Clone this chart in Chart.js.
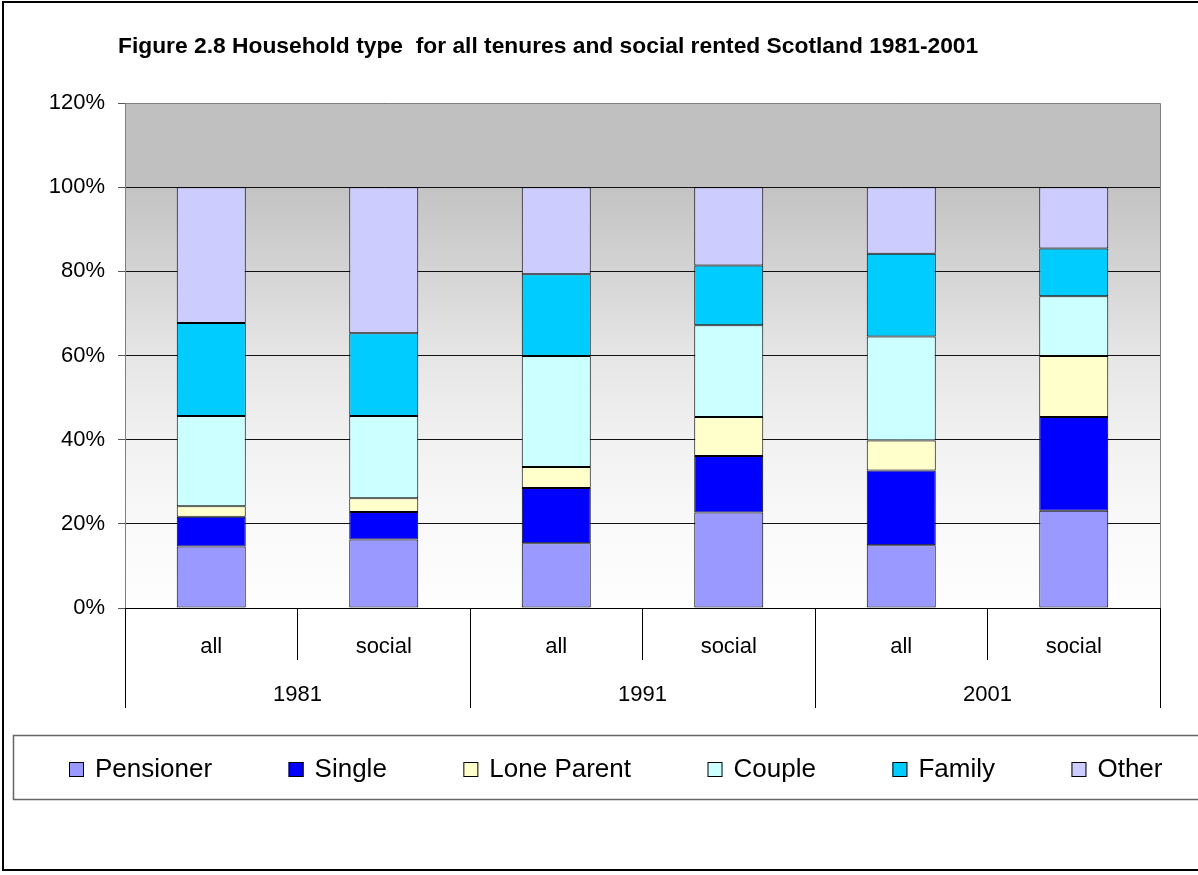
<!DOCTYPE html>
<html>
<head>
<meta charset="utf-8">
<script src="https://cdn.jsdelivr.net/npm/chart.js@4/dist/chart.umd.min.js"></script>
<style>
  html, body { margin: 0; padding: 0; background: #fff; }
  #wrap { position: relative; width: 1198px; height: 875px; }
  canvas { display: block; }
</style>
</head>
<body>
<div id="wrap"><canvas id="c" width="1198" height="875"></canvas></div>
<script>
// ---- Data ----
const titleText = 'Figure 2.8 Household type  for all tenures and social rented Scotland 1981-2001';
const categories = ['all', 'social', 'all', 'social', 'all', 'social'];
const years = ['1981', '1991', '2001'];
const yTicks = [0, 20, 40, 60, 80, 100, 120];
const seriesNames = ['Pensioner', 'Single', 'Lone Parent', 'Couple', 'Family', 'Other'];
const pensioner  = [14.6, 16.3, 15.4, 22.7, 14.9, 23.1];
const single     = [7.1, 6.5, 13.1, 13.4, 17.8, 22.3];
const loneParent = [2.5, 3.3, 5.0, 9.3, 7.1, 14.5];
const couple     = [21.4, 19.5, 26.4, 21.8, 24.7, 14.2];
const family     = [22.1, 19.7, 19.4, 14.2, 19.7, 11.3];
const other      = [32.3, 34.7, 20.7, 18.6, 15.8, 14.6];

const seriesValues = [pensioner, single, loneParent, couple, family, other];
const seriesColors = ['#9999ff', '#0000ff', '#ffffcc', '#ccffff', '#00ccff', '#ccccff'];

const FONT = "'Liberation Sans', Arial, sans-serif";
Chart.defaults.font.family = FONT;
Chart.defaults.color = '#000';

const bgPlugin = {
  id: 'bg',
  beforeDraw(chart) {
    const {ctx, chartArea: a, scales: {y}} = chart;
    ctx.save();
    // outer frame
    ctx.strokeStyle = '#000';
    ctx.lineWidth = 2;
    ctx.strokeRect(3, 2, 1300, 868);
    // plot background
    const y100 = y.getPixelForValue(100);
    ctx.fillStyle = '#c0c0c0';
    ctx.fillRect(a.left, a.top, a.right - a.left, y100 - a.top);
    const g = ctx.createLinearGradient(0, y100, 0, a.bottom);
    g.addColorStop(0, '#c3c3c3');
    g.addColorStop(0.2, '#d4d4d4');
    g.addColorStop(0.4, '#e6e6e6');
    g.addColorStop(0.6, '#f1f1f1');
    g.addColorStop(0.8, '#f9f9f9');
    g.addColorStop(1, '#fefefe');
    ctx.fillStyle = g;
    ctx.fillRect(a.left, y100, a.right - a.left, a.bottom - y100);
    ctx.restore();
  },
  beforeDatasetsDraw(chart) {
    const {ctx, chartArea: a} = chart;
    ctx.save();
    ctx.strokeStyle = '#808080';
    ctx.lineWidth = 1;
    ctx.beginPath();
    ctx.moveTo(a.left + 0.5, a.bottom);
    ctx.lineTo(a.left + 0.5, a.top + 0.5);
    ctx.lineTo(a.right + 0.5, a.top + 0.5);
    ctx.lineTo(a.right + 0.5, a.bottom);
    ctx.stroke();
    ctx.restore();
  },
  afterDraw(chart) {
    const {ctx} = chart;
    ctx.save();
    // title
    ctx.font = 'bold 22.8px ' + FONT;
    ctx.fillStyle = '#000';
    ctx.textBaseline = 'middle';
    ctx.textAlign = 'left';
    ctx.fillText(titleText, 118, 47);
    // legend frame
    ctx.strokeStyle = '#666';
    ctx.lineWidth = 1.5;
    ctx.strokeRect(13.5, 735.5, 1300, 64);
    // legend items
    ctx.font = '26px ' + FONT;
    let x = 69;
    const cy = 769;
    chart.data.datasets.forEach(ds => {
      ctx.fillStyle = ds.backgroundColor;
      ctx.fillRect(x, cy - 7, 15, 15);
      ctx.strokeStyle = '#000';
      ctx.lineWidth = 1;
      ctx.strokeRect(x + 0.5, cy - 6.5, 14, 14);
      ctx.fillStyle = '#000';
      ctx.fillText(ds.label, x + 26, cy + 1);
      x += 26 + ctx.measureText(ds.label).width + 76.5;
    });
    ctx.restore();
  }
};

new Chart(document.getElementById('c'), {
  type: 'bar',
  data: {
    labels: categories,
    datasets: seriesNames.map((name, i) => ({
      label: name,
      data: seriesValues[i],
      backgroundColor: seriesColors[i],
      borderColor: '#000',
      borderWidth: 1,
      borderSkipped: false,
      barPercentage: 0.4,
      categoryPercentage: 1.0
    }))
  },
  options: {
    responsive: false,
    animation: false,
    layout: { padding: { left: 0, right: 38, top: 103, bottom: 169 } },
    plugins: { legend: { display: false }, title: { display: false }, tooltip: { enabled: false } },
    scales: {
      y: {
        stacked: true,
        min: 0, max: 120,
        afterBuildTicks(s) { s.ticks = yTicks.map(v => ({value: v})); },
        ticks: { callback: v => v + '%', font: { size: 22 }, padding: 13, color: '#000' },
        grid: { color: '#111', tickLength: 7, tickColor: '#555' },
        border: { display: true, color: '#808080' },
        afterFit(s) { s.width = 125; }
      },
      x: {
        stacked: true,
        offset: true,
        ticks: { font: { size: 22 }, padding: -26.4, color: '#000', maxRotation: 0, autoSkip: false },
        grid: { offset: true, drawOnChartArea: false, tickLength: 52, color: '#000', tickColor: '#000' },
        border: { display: true, color: '#000' },
        afterFit(s) { s.height = 50; }
      },
      x2: {
        type: 'category',
        position: 'bottom',
        labels: years,
        offset: true,
        ticks: { font: { size: 22 }, padding: -26.6, color: '#000', maxRotation: 0, autoSkip: false },
        grid: { offset: true, drawOnChartArea: false, tickLength: 50, color: '#000', tickColor: '#000' },
        border: { display: false },
        afterFit(s) { s.height = 48; }
      }
    }
  },
  plugins: [bgPlugin]
});
</script>
</body>
</html>
